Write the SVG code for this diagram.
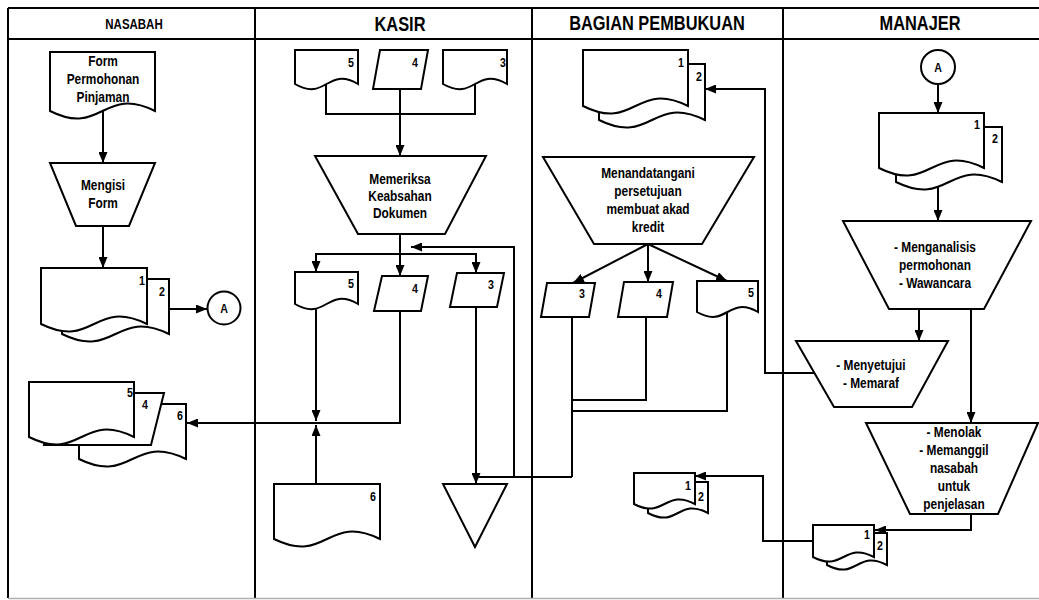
<svg xmlns="http://www.w3.org/2000/svg" width="1039" height="600" viewBox="0 0 1039 600">
<style>
.t{font-family:'Liberation Sans Narrow','Arial Narrow','Liberation Sans',Arial,sans-serif;font-weight:bold;fill:#000;text-anchor:middle}
.h{font-size:20px}
.p{font-size:14.5px}
.n{font-size:13px;text-anchor:end}
.s{fill:#fff;stroke:#000;stroke-width:2;stroke-linejoin:miter}
.c{fill:none;stroke:#000;stroke-width:2}
.a{marker-end:url(#ah)}
.f{fill:none;stroke:#000;stroke-width:2}
</style>
<defs>
<marker id="ah" markerWidth="11" markerHeight="9" refX="11" refY="4.5" orient="auto" markerUnits="userSpaceOnUse"><path d="M0,0 L11,4.5 L0,9 z" fill="#000"/></marker>
</defs>
<rect width="1039" height="600" fill="#fff"/>
<g id="frame">
<path class="f" d="M8,8 H1039 M8,39 H1039 M8,8 V598 M255,8 V598 M532,8 V598 M783,8 V598"/>
<path d="M8,598.5 H1039" stroke="#b0b0b0" stroke-width="1.5" fill="none"/>
<text class="t" transform="translate(134,29) scale(.82,1)" style="font-size:14px">NASABAH</text>
<text class="t h" transform="translate(400,31) scale(.82,1)">KASIR</text>
<text class="t h" transform="translate(657,30) scale(.82,1)">BAGIAN PEMBUKUAN</text>
<text class="t h" transform="translate(920,30) scale(.82,1)">MANAJER</text>
</g>
<g id="connectors">
<path class="c a" d="M103,111 V163"/>
<path class="c a" d="M103,226 V268"/>
<path class="c a" d="M169,309 H207"/>
<path class="c" d="M326,84 V114 H475 V84"/>
<path class="c a" d="M400,89 V156"/>
<path class="c a" d="M400,234 V276"/>
<path class="c a" d="M400,254 H316 V272"/>
<path class="c a" d="M400,254 H476 V273"/>
<path class="c a" d="M514,477 V247 H411"/>
<path class="c" d="M572,477 H475"/>
<path class="c a" d="M476,307 V484"/>
<path class="c a" d="M316,304 V421"/>
<path class="c a" d="M400,311 V423 H187"/>
<path class="c a" d="M316,484 V425"/>
<path class="c a" d="M648,244 L573,283"/>
<path class="c a" d="M648,244 V282"/>
<path class="c a" d="M648,244 L727,281"/>
<path class="c" d="M572,317 V477"/>
<path class="c" d="M646,317 V400 H572"/>
<path class="c" d="M727,312 V411 H572"/>
<path class="c a" d="M814,373 H765 V89 H705"/>
<path class="c a" d="M938,84 V113"/>
<path class="c a" d="M938,180 V221"/>
<path class="c a" d="M919,309 V341"/>
<path class="c a" d="M971,309 V423"/>
<path class="c a" d="M971,514 V530 H875"/>
<path class="c a" d="M813,541 H763 V476 H695"/>
</g>
<g id="n-form">
<path class="s" d="M50,52 H155 V111 c-52,-26 -53,26 -105,0 Z"/>
<text class="t p" transform="translate(103,66) scale(.82,1)">Form</text>
<text class="t p" transform="translate(103,84) scale(.82,1)">Permohonan</text>
<text class="t p" transform="translate(103,102) scale(.82,1)">Pinjaman</text>
</g>
<g id="n-mengisi">
<path class="s" d="M50,163 H155 L129,226 H76 Z"/>
<text class="t p" transform="translate(103,190) scale(.82,1)">Mengisi</text>
<text class="t p" transform="translate(103,208) scale(.82,1)">Form</text>
</g>
<g id="n-nasabah-doc12">
<path class="s" d="M62,279 H169 V334 c-53,-26 -54,26 -107,0 Z"/>
<path class="s" d="M41,268 H147 V324 c-53,-26 -53,26 -106,0 Z"/>
<text class="t n" transform="translate(145,285) scale(.82,1)">1</text>
<text class="t n" transform="translate(165,296) scale(.82,1)">2</text>
</g>
<g id="n-connector-a1">
<circle class="s" cx="224" cy="308" r="16.5"/>
<text class="t" transform="translate(224,313) scale(.82,1)" style="font-size:13px">A</text>
</g>
<g id="n-nasabah-doc546">
<path class="s" d="M79,404 H186 V459 c-53,-26 -54,26 -107,0 Z"/>
<path class="s" d="M57,393 H164 L151,445 H44 Z"/>
<path class="s" d="M29,382 H134 V437 c-52,-26 -53,26 -105,0 Z"/>
<text class="t n" transform="translate(133,397) scale(.82,1)">5</text>
<text class="t n" transform="translate(148,409) scale(.82,1)">4</text>
<text class="t n" transform="translate(183,420) scale(.82,1)">6</text>
</g>
<g id="n-kasir-in5">
<path class="s" d="M295,50 H358 V84 c-31,-18 -32,18 -63,0 Z"/>
<text class="t n" transform="translate(354,67) scale(.82,1)">5</text>
</g>
<g id="n-kasir-in4">
<path class="s" d="M380,50 H428 L421,89 H373 Z"/>
<text class="t n" transform="translate(418,67) scale(.82,1)">4</text>
</g>
<g id="n-kasir-in3">
<path class="s" d="M443,50 H507 V84 c-32,-18 -32,18 -64,0 Z"/>
<text class="t n" transform="translate(506,67) scale(.82,1)">3</text>
</g>
<g id="n-memeriksa">
<path class="s" d="M315,156 H486 L445,234 H358 Z"/>
<text class="t p" transform="translate(400,184) scale(.82,1)">Memeriksa</text>
<text class="t p" transform="translate(400,201) scale(.82,1)">Keabsahan</text>
<text class="t p" transform="translate(400,218) scale(.82,1)">Dokumen</text>
</g>
<g id="n-kasir-out5">
<path class="s" d="M295,272 H358 V304 c-31,-18 -32,18 -63,0 Z"/>
<text class="t n" transform="translate(354,288) scale(.82,1)">5</text>
</g>
<g id="n-kasir-out4">
<path class="s" d="M382,276 H428 L421,311 H374 Z"/>
<text class="t n" transform="translate(418,293) scale(.82,1)">4</text>
</g>
<g id="n-kasir-out3">
<path class="s" d="M457,273 H504 L497,307 H450 Z"/>
<text class="t n" transform="translate(494,289) scale(.82,1)">3</text>
</g>
<g id="n-kasir-doc6">
<path class="s" d="M274,484 H380 V539 c-53,-26 -53,26 -106,0 Z"/>
<text class="t n" transform="translate(376,501) scale(.82,1)">6</text>
</g>
<g id="n-arsip">
<path class="s" d="M443,484 H507 L475,547 Z"/>
</g>
<g id="n-pembukuan-doc12">
<path class="s" d="M599,64 H705 V120 c-53,-26 -53,26 -106,0 Z"/>
<path class="s" d="M583,50 H688 V106 c-52,-26 -53,26 -105,0 Z"/>
<text class="t n" transform="translate(684,67) scale(.82,1)">1</text>
<text class="t n" transform="translate(702,81) scale(.82,1)">2</text>
</g>
<g id="n-menandatangani">
<path class="s" d="M543,157 H754 L702,244 H594 Z"/>
<text class="t p" transform="translate(648,178) scale(.82,1)">Menandatangani</text>
<text class="t p" transform="translate(648,196) scale(.82,1)">persetujuan</text>
<text class="t p" transform="translate(648,214) scale(.82,1)">membuat akad</text>
<text class="t p" transform="translate(648,232) scale(.82,1)">kredit</text>
</g>
<g id="n-pembukuan-3">
<path class="s" d="M547,283 H595 L589,317 H541 Z"/>
<text class="t n" transform="translate(585,298) scale(.82,1)">3</text>
</g>
<g id="n-pembukuan-4">
<path class="s" d="M624,282 H673 L667,317 H618 Z"/>
<text class="t n" transform="translate(662,298) scale(.82,1)">4</text>
</g>
<g id="n-pembukuan-5">
<path class="s" d="M697,281 H758 V312 c-30,-17 -31,17 -61,0 Z"/>
<text class="t n" transform="translate(754,297) scale(.82,1)">5</text>
</g>
<g id="n-pembukuan-small12">
<path class="s" d="M648,482 H708 V513 c-30,-16 -30,16 -60,0 Z"/>
<path class="s" d="M634,473 H695 V504 c-30,-16 -31,16 -61,0 Z"/>
<text class="t n" transform="translate(691,490) scale(.82,1)">1</text>
<text class="t n" transform="translate(704,501) scale(.82,1)">2</text>
</g>
<g id="n-connector-a2">
<circle class="s" cx="938" cy="67" r="17"/>
<text class="t" transform="translate(938,72) scale(.82,1)" style="font-size:13px">A</text>
</g>
<g id="n-manajer-doc12">
<path class="s" d="M896,127 H1002 V182 c-53,-26 -53,26 -106,0 Z"/>
<path class="s" d="M879,113 H984 V168 c-52,-26 -53,26 -105,0 Z"/>
<text class="t n" transform="translate(980,129) scale(.82,1)">1</text>
<text class="t n" transform="translate(998,143) scale(.82,1)">2</text>
</g>
<g id="n-menganalisis">
<path class="s" d="M843,221 H1031 L984,309 H889 Z"/>
<text class="t p" transform="translate(935,252) scale(.82,1)">- Menganalisis</text>
<text class="t p" transform="translate(935,270) scale(.82,1)">permohonan</text>
<text class="t p" transform="translate(935,288) scale(.82,1)">- Wawancara</text>
</g>
<g id="n-menyetujui">
<path class="s" d="M796,341 H948 L912,407 H834 Z"/>
<text class="t p" transform="translate(871,370) scale(.82,1)">- Menyetujui</text>
<text class="t p" transform="translate(871,388) scale(.82,1)">- Memaraf</text>
</g>
<g id="n-menolak">
<path class="s" d="M866,423 H1038 L998,514 H910 Z"/>
<text class="t p" transform="translate(954,437) scale(.82,1)">- Menolak</text>
<text class="t p" transform="translate(954,455) scale(.82,1)">- Memanggil</text>
<text class="t p" transform="translate(954,473) scale(.82,1)">nasabah</text>
<text class="t p" transform="translate(954,491) scale(.82,1)">untuk</text>
<text class="t p" transform="translate(954,509) scale(.82,1)">penjelasan</text>
</g>
<g id="n-manajer-small12">
<path class="s" d="M827,533 H887 V565 c-30,-16 -30,16 -60,0 Z"/>
<path class="s" d="M813,525 H874 V557 c-30,-16 -31,16 -61,0 Z"/>
<text class="t n" transform="translate(870,539) scale(.82,1)">1</text>
<text class="t n" transform="translate(883,550) scale(.82,1)">2</text>
</g>
</svg>
